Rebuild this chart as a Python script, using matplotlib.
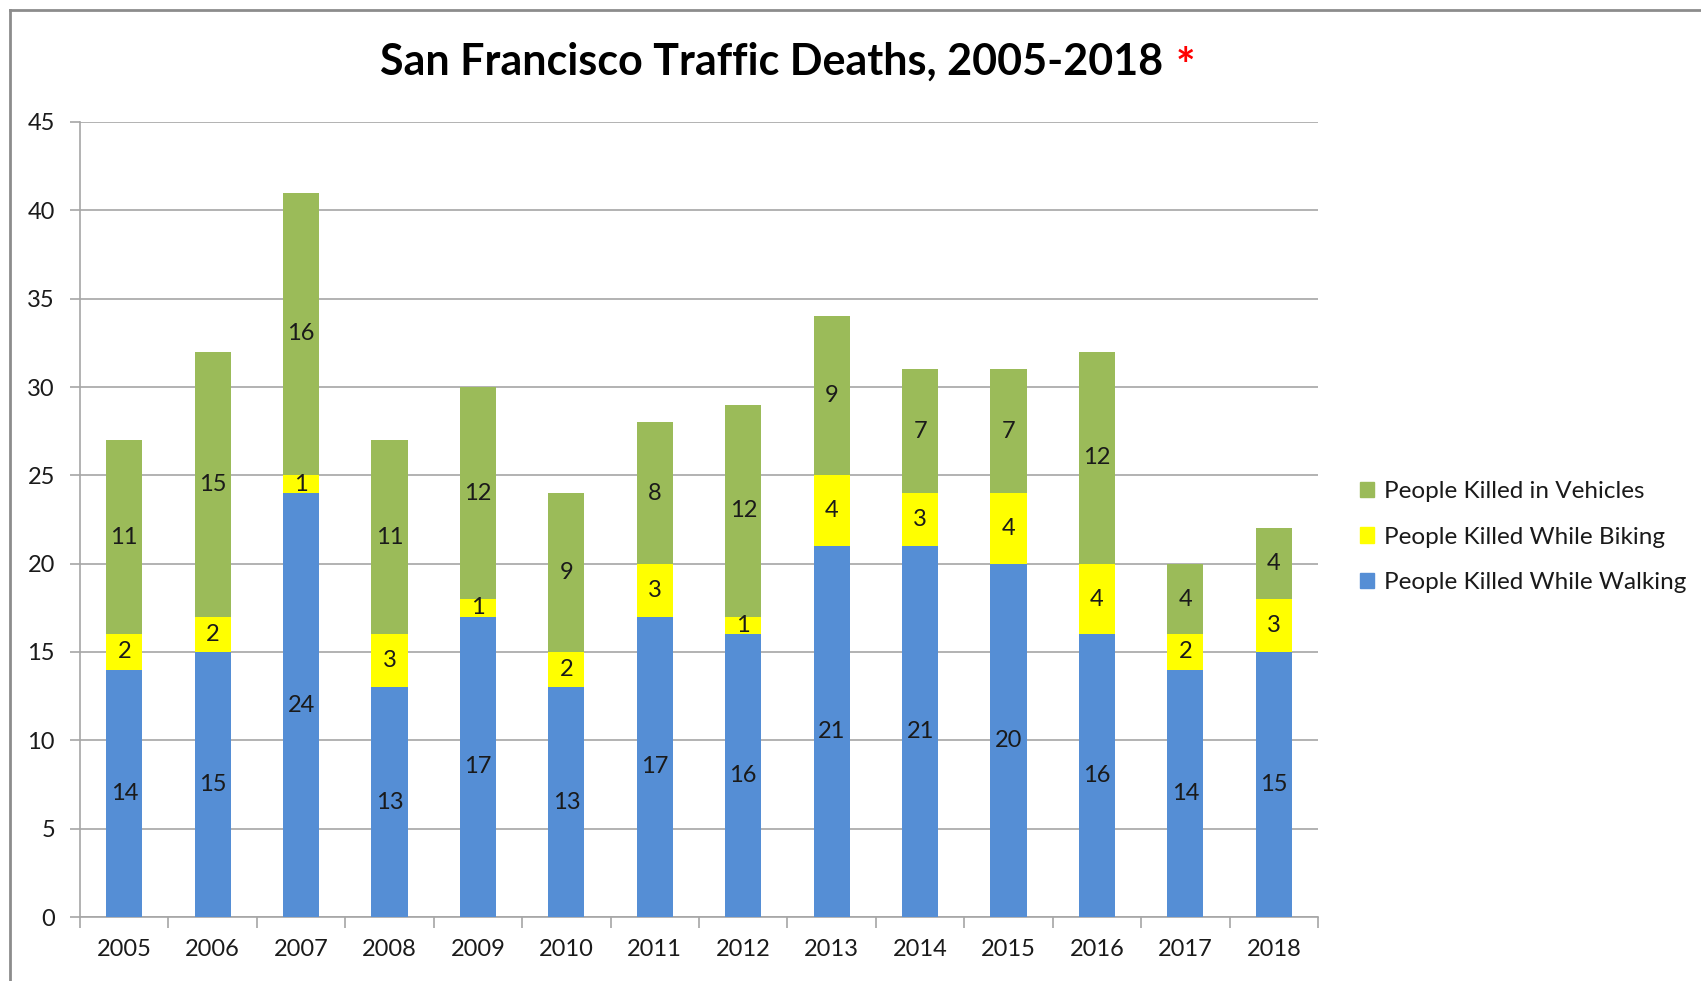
import matplotlib
matplotlib.use("Agg")
import matplotlib.pyplot as plt
from matplotlib.lines import Line2D
from matplotlib.patches import Patch

plt.rcParams['font.family'] = ['Lato', 'DejaVu Sans']

years = ['2005', '2006', '2007', '2008', '2009', '2010', '2011',
         '2012', '2013', '2014', '2015', '2016', '2017', '2018']
walking = [14, 15, 24, 13, 17, 13, 17, 16, 21, 21, 20, 16, 14, 15]
biking = [2, 2, 1, 3, 1, 2, 3, 1, 4, 3, 4, 4, 2, 3]
vehicles = [11, 15, 16, 11, 12, 9, 8, 12, 9, 7, 7, 12, 4, 4]

c_walk = '#558ED5'
c_bike = '#FFFF00'
c_veh = '#9BBB59'
grid_c = '#A6A6A6'
txt_c = '#1a1a1a'

fig = plt.figure(figsize=(17.01, 9.81), dpi=100)
ax = fig.add_axes([80/1701, 1-917/981, (1318-80)/1701, (917-122)/981])

x = list(range(len(years)))
w = 0.41
ax.bar(x, walking, w, color=c_walk, zorder=3)
ax.bar(x, biking, w, bottom=walking, color=c_bike, zorder=3)
bottom3 = [a + b for a, b in zip(walking, biking)]
ax.bar(x, vehicles, w, bottom=bottom3, color=c_veh, zorder=3)

# segment labels
for i in x:
    ax.text(i, walking[i]/2, str(walking[i]), ha='center', va='center', fontsize=17, color=txt_c, zorder=4)
    ax.text(i, walking[i] + biking[i]/2, str(biking[i]), ha='center', va='center', fontsize=17, color=txt_c, zorder=4)
    ax.text(i, bottom3[i] + vehicles[i]/2, str(vehicles[i]), ha='center', va='center', fontsize=17, color=txt_c, zorder=4)

ax.set_xlim(-0.5, len(years) - 0.5)
ax.set_ylim(0, 45)
ax.set_yticks(range(0, 46, 5))
ax.yaxis.grid(True, color=grid_c, linewidth=1.2, zorder=0)

ax.set_xticks([i - 0.5 for i in range(len(years) + 1)])
ax.set_xticklabels([])
ax.set_xticks(x, minor=True)
ax.set_xticklabels(years, minor=True)
ax.tick_params(axis='x', which='major', direction='out', length=8, width=1.2, color=grid_c)
ax.tick_params(axis='x', which='minor', length=0, pad=16, labelsize=17, labelcolor=txt_c)
ax.tick_params(axis='y', direction='out', length=7, width=1.2, color=grid_c, pad=11, labelsize=17, labelcolor=txt_c)

for s in ['top', 'right']:
    ax.spines[s].set_visible(False)
for s in ['left', 'bottom']:
    ax.spines[s].set_color(grid_c)
    ax.spines[s].set_linewidth(1.2)

# legend
handles = [Patch(color=c_veh), Patch(color=c_bike), Patch(color=c_walk)]
labels = ['People Killed in Vehicles', 'People Killed While Biking', 'People Killed While Walking']
fig.legend(handles, labels, loc='center left', bbox_to_anchor=(1338/1701, 1-537/981),
           frameon=False, fontsize=17.5, handlelength=0.6, handleheight=0.6,
           handletextpad=0.4, labelspacing=1.0, labelcolor=txt_c)

# title with red asterisk
t = fig.text(772/1701, 1-62/981, 'San Francisco Traffic Deaths, 2005-2018', ha='center', va='center',
             fontsize=31, fontweight='bold', color='black')
fig.canvas.draw()
bb = t.get_window_extent()
fig.text((bb.x1 + 12)/1701, 1-68/981, '*', ha='left', va='center', fontsize=33,
         fontweight='bold', color='#FF0000')

# outer frame (partially cropped chart border)
fig.add_artist(Line2D([10/1701, 10/1701], [0, 1-10/981], transform=fig.transFigure, color='#8c8c8c', linewidth=2))
fig.add_artist(Line2D([10/1701, 1], [1-10/981, 1-10/981], transform=fig.transFigure, color='#8c8c8c', linewidth=2))

fig.savefig('out.png', dpi=100)
